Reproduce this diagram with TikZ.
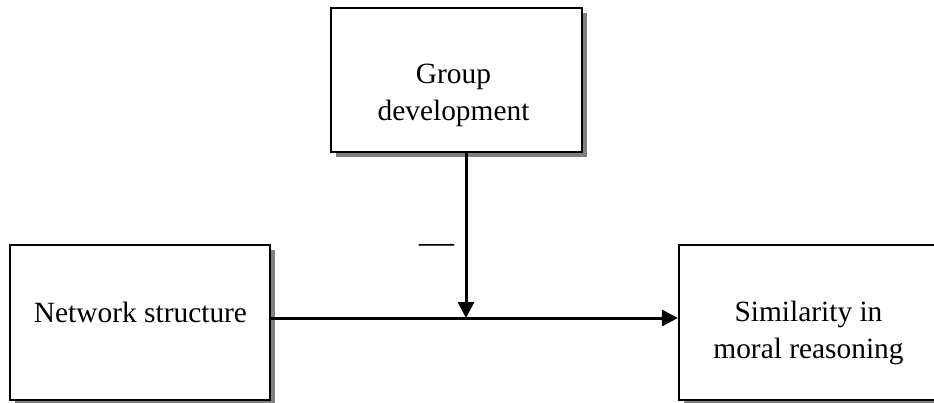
\documentclass[tikz,border=0pt]{standalone}
\usepackage{fontspec}
\setmainfont{Liberation Serif}
\usetikzlibrary{arrows.meta, shadows}

\begin{document}
\begin{tikzpicture}[x=1pt, y=-1pt,
    box/.style={draw, fill=white, line width=2.2pt, inner sep=0pt,
      drop shadow={shadow xshift=5pt, shadow yshift=-5pt, fill=black!50, opacity=1}},
    label/.style={align=center, inner sep=0pt, anchor=base,
      font=\fontsize{29.4}{37.5}\selectfont},
    link/.style={-{Triangle[length=16pt,width=16pt]}, line width=3pt}]
  \useasboundingbox (0,0) rectangle (934,403);
  \node[box, minimum width=251pt, minimum height=144pt] (G) at (456.5,80) {};
  \node[box, minimum width=260pt, minimum height=155pt] (N) at (140,322.5) {};
  \node[box, minimum width=256pt, minimum height=155pt] (S) at (807,322.5) {};
  \node[label] (Gtext) at (453.5,121) {Group\\development};
  \node[label] (Ntext) at (140.5,322) {Network structure};
  \node[label] (Stext) at (808.5,358.5) {Similarity in\\moral reasoning};
  \coordinate (M) at (466,318);
  \draw [link] (N.east |- M) -- (S.west |- M);
  \draw [link] (M |- G.south) -- (M);
  \node[font=\fontsize{35}{35}\selectfont, inner sep=0pt] (minus) at (436.5,248.5) {---};
\end{tikzpicture}
\end{document}
